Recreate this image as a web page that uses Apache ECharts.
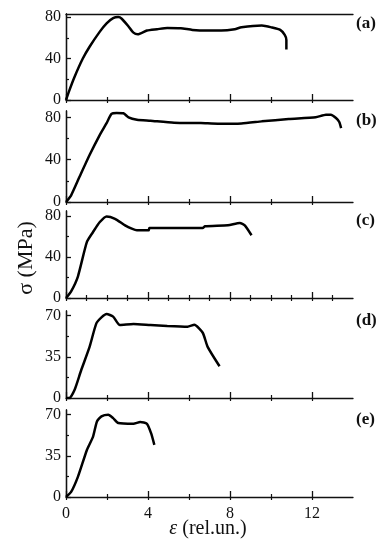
<!DOCTYPE html>
<html><head><meta charset="utf-8">
<script src="https://cdn.jsdelivr.net/npm/echarts@6/dist/echarts.min.js"></script>
<style>html,body{margin:0;padding:0;background:#fff}#c{width:382px;height:550px}</style>
</head><body><div id="c"></div>
<script>
// ---- data (strain in rel.un., stress in MPa) ----
const epsA = [0,0.16,0.41,0.82,1.15,1.65,1.98,2.3,2.55,2.72,3.05,3.29,3.5,3.95,4.44,4.94,5.6,6.17,6.91,7.57,8.23,8.56,9.55,10.04,10.45,10.67,10.75,10.75];
const sigA = [0,9.1,22,40,51.4,66,74,79,80,78.4,71,65,63.4,67,68.3,69.6,69.3,67.6,67,67,68.3,70.2,71.9,70,67.6,62.8,58,48.8];
const epsB = [0,0.25,0.66,1.15,1.65,1.98,2.22,2.47,2.8,3.05,3.46,4.12,5.27,6.58,7.41,8.56,9.55,10.86,12.18,12.68,12.92,13.17,13.33,13.42];
const sigB = [0,6.3,23.8,44.4,63.5,74.6,83.2,84.1,83.8,80,77.8,76.8,74.9,74.6,74,74.3,76.2,78.4,80,82.5,82.5,79.4,75.6,69.8];
const epsC = [0,0.25,0.58,1.02,1.32,1.65,1.98,2.39,2.88,3.21,3.46,4.03,4.07,5.27,6.67,6.78,7.9,8.48,8.72,9.05];
const sigC = [0,6.5,21,54.8,64.5,74.2,79.7,77.4,71,67.7,66.1,66.1,68.4,68.4,68.4,70,71,73.2,71,61.3];
const epsD = [0,0.16,0.41,0.74,1.15,1.48,1.73,1.98,2.3,2.63,3.29,4.12,4.94,5.93,6.26,6.67,6.91,7.49];
const sigD = [0,0,6.5,23.6,43.5,63.5,68.6,71.4,69.2,62,62.9,62,61.2,60.6,62.3,55.5,43.5,27];
const epsE = [0,0.25,0.58,1.02,1.32,1.51,1.73,2.06,2.3,2.55,3.29,3.62,3.95,4.15,4.31];
const sigE = [0,4.3,17.1,40,51.4,64.3,68.6,70,67.1,62.9,62.3,63.7,62.3,54.3,44.3];

const panelNames = ['(a)','(b)','(c)','(d)','(e)'];
const xMajorTicks = [0,4,8,12];
const xMinorTicks = [2,6,10];
const xMinorTicksFine = [1,2,3,5,6,7,9,10,11,13];
const yTicks80 = [0,40,80];
const yMinor80 = [20,60];
const yTicks70 = [0,35,70];
const yMinor70 = [17.5,52.5];

// ---- layout ----
const tops = [14,111,211,311,410];
const heights = [86,91,87,87,87];
const yMax = [83,86,85,74,74];
const xs = [epsA,epsB,epsC,epsD,epsE];
const ys = [sigA,sigB,sigC,sigD,sigE];
const yMaj = [yTicks80,yTicks80,yTicks80,yTicks70,yTicks70];
const yMin = [yMinor80,yMinor80,yMinor80,yMinor70,yMinor70];
const xMin = [xMinorTicks,xMinorTicks,xMinorTicksFine,xMinorTicks,xMinorTicks];

const FONT = '"Liberation Serif", "DejaVu Serif", serif';
const AX = '#111';
const grid=[], xAxis=[], yAxis=[], series=[], graphic=[];
for (let i=0;i<5;i++){
  grid.push({left:66,right:29,top:tops[i],height:heights[i]});
  const baseX = {type:'value',gridIndex:i,min:0,max:14,splitLine:{show:false}};
  const baseY = {type:'value',gridIndex:i,min:0,max:yMax[i],splitLine:{show:false}};
  const mainX = xAxis.length;
  xAxis.push(Object.assign({},baseX,{position:'bottom',
    axisLine:{show:true,lineStyle:{color:AX,width:1.3}},
    axisTick:{show:true,inside:true,length:6,customValues:xMajorTicks,lineStyle:{color:AX,width:1.3}},
    axisLabel:{show:i===4,customValues:xMajorTicks,fontFamily:FONT,fontSize:16,color:'#111',margin:9}}));
  xAxis.push(Object.assign({},baseX,{position:'bottom',axisLine:{show:false},
    axisTick:{show:true,inside:true,length:3,customValues:xMin[i],lineStyle:{color:AX,width:1.2}},
    axisLabel:{show:false}}));
  xAxis.push(Object.assign({},baseX,{position:'bottom',axisLine:{show:false},
    axisTick:{show:true,inside:false,length:3,customValues:xMajorTicks.concat(xMin[i]),lineStyle:{color:AX,width:1.2}},
    axisLabel:{show:false}}));
  if (i===0){
    xAxis.push(Object.assign({},baseX,{position:'top',axisLine:{show:true,lineStyle:{color:AX,width:1.3}},
      axisTick:{show:false},axisLabel:{show:false}}));
  }
  const mainY = yAxis.length;
  yAxis.push(Object.assign({},baseY,{position:'left',
    axisLine:{show:true,lineStyle:{color:AX,width:1.3}},
    axisTick:{show:true,inside:true,length:5,customValues:yMaj[i],lineStyle:{color:AX,width:1.3}},
    axisLabel:{show:true,customValues:yMaj[i],fontFamily:FONT,fontSize:16,color:'#111',margin:5}}));
  yAxis.push(Object.assign({},baseY,{position:'left',axisLine:{show:false},
    axisTick:{show:true,inside:true,length:3,customValues:yMin[i],lineStyle:{color:AX,width:1.2}},
    axisLabel:{show:false}}));
  yAxis.push(Object.assign({},baseY,{position:'right',axisLine:{show:true,lineStyle:{color:AX,width:1.3}},
    axisTick:{show:false},axisLabel:{show:false}}));
  series.push({type:'line',xAxisIndex:mainX,yAxisIndex:mainY,showSymbol:false,smooth:0.2,
    lineStyle:{color:'#000',width:2.5},data:xs[i].map((x,k)=>[x,ys[i][k]]),silent:true,animation:false});
  graphic.push({type:'text',left:356,top:tops[i]+1,style:{text:panelNames[i],font:'bold 17px '+FONT,fill:'#111'}});
}
graphic.push({type:'text',x:26,y:258,rotation:Math.PI/2,style:{text:'σ (MPa)',font:'22px '+FONT,fill:'#111',align:'center',verticalAlign:'middle'}});
graphic.push({type:'text',x:208,y:529,style:{text:'{i|ε} (rel.un.)',font:'20px '+FONT,fill:'#111',align:'center',verticalAlign:'middle',
  rich:{i:{fontStyle:'italic',fontFamily:FONT,fontSize:20,fill:'#111'}}}});

const chart = echarts.init(document.getElementById('c'),null,{renderer:'canvas'});
chart.setOption({animation:false,grid,xAxis,yAxis,series,graphic});
</script></body></html>
